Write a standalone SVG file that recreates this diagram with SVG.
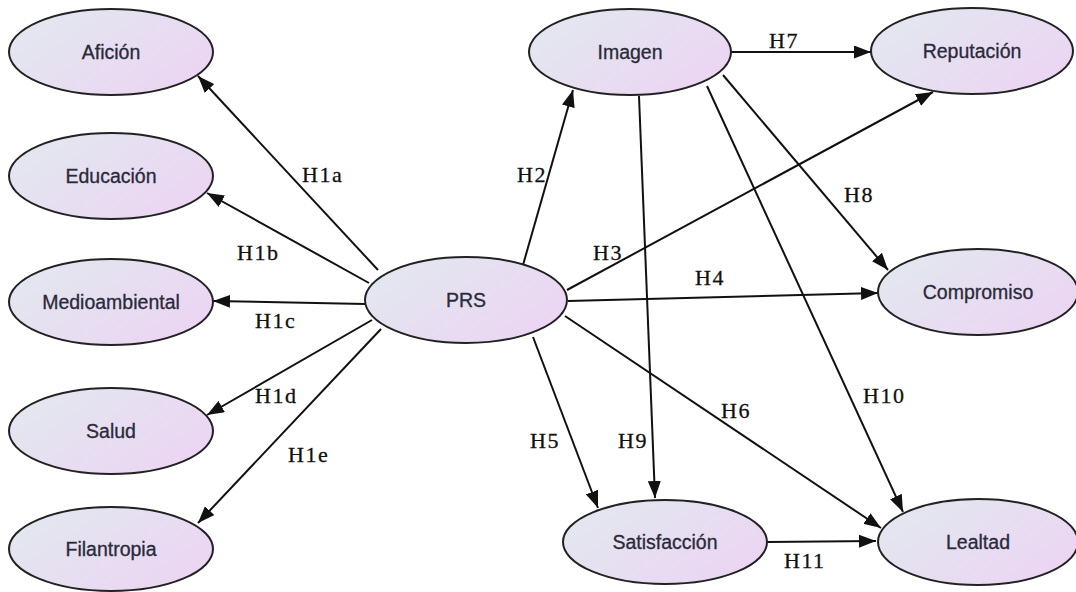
<svg xmlns="http://www.w3.org/2000/svg" width="1076" height="592" viewBox="0 0 1076 592">
<defs>
<linearGradient id="g" x1="0" y1="0.2" x2="1" y2="0.8">
<stop offset="0" stop-color="#e2e8ef"/>
<stop offset="1" stop-color="#ecd4f3"/>
</linearGradient>
<marker id="a" markerUnits="userSpaceOnUse" markerWidth="18" markerHeight="13" refX="17" refY="6.5" orient="auto">
<path d="M0,0 L17,6.5 L0,13 z" fill="#111"/>
</marker>
</defs>
<style>
.n{fill:url(#g);stroke:#222;stroke-width:2}
.t{font-family:"Liberation Sans",Arial,sans-serif;font-size:19.5px;fill:#2a2a3a;stroke:#2a2a3a;stroke-width:0.3;text-anchor:middle}
.e{fill:none;stroke:#111;stroke-width:2;marker-end:url(#a)}
.l{font-family:"Liberation Serif","Times New Roman",serif;font-size:22px;letter-spacing:1.5px;fill:#111;stroke:#111;stroke-width:0.3}
</style>
<rect width="1076" height="592" fill="#fff"/>
<g id="connectors">
<line class="e" x1="378" y1="270" x2="198" y2="76"/>
<line class="e" x1="369" y1="283" x2="207" y2="193"/>
<line class="e" x1="365" y1="304" x2="213" y2="301"/>
<line class="e" x1="372" y1="320" x2="207" y2="415"/>
<line class="e" x1="381" y1="329" x2="198" y2="523"/>
<line class="e" x1="523" y1="265" x2="573" y2="90"/>
<line class="e" x1="567" y1="290" x2="933" y2="92"/>
<line class="e" x1="568" y1="301" x2="878" y2="293"/>
<line class="e" x1="533" y1="337" x2="598" y2="508"/>
<line class="e" x1="565" y1="316" x2="881" y2="528"/>
<line class="e" x1="731" y1="52" x2="871" y2="52"/>
<line class="e" x1="723" y1="75" x2="888" y2="270"/>
<line class="e" x1="639" y1="96" x2="655" y2="498"/>
<line class="e" x1="707" y1="86" x2="903" y2="512"/>
<line class="e" x1="767" y1="542" x2="876" y2="541"/>
<text class="l" x="302" y="182">H1a</text>
<text class="l" x="237" y="260">H1b</text>
<text class="l" x="255" y="328">H1c</text>
<text class="l" x="255" y="403">H1d</text>
<text class="l" x="288" y="462">H1e</text>
<text class="l" x="517" y="182">H2</text>
<text class="l" x="593" y="260">H3</text>
<text class="l" x="695" y="285">H4</text>
<text class="l" x="530" y="448">H5</text>
<text class="l" x="721" y="418">H6</text>
<text class="l" x="769" y="48">H7</text>
<text class="l" x="844" y="202">H8</text>
<text class="l" x="618" y="448">H9</text>
<text class="l" x="863" y="403">H10</text>
<text class="l" x="784" y="568">H11</text>
</g>
<g id="aficion"><ellipse class="n" cx="111" cy="52" rx="102" ry="43"/><text class="t" x="111" y="59">Afición</text></g>
<g id="educacion"><ellipse class="n" cx="111" cy="176" rx="102" ry="43"/><text class="t" x="111" y="183">Educación</text></g>
<g id="medioambiental"><ellipse class="n" cx="111" cy="302" rx="102" ry="43"/><text class="t" x="111" y="309">Medioambiental</text></g>
<g id="salud"><ellipse class="n" cx="111" cy="431" rx="102" ry="43"/><text class="t" x="111" y="438">Salud</text></g>
<g id="filantropia"><ellipse class="n" cx="111" cy="549" rx="102" ry="42"/><text class="t" x="111" y="556">Filantropia</text></g>
<g id="prs"><ellipse class="n" cx="466" cy="300" rx="101" ry="43"/><text class="t" x="466" y="307">PRS</text></g>
<g id="imagen"><ellipse class="n" cx="630" cy="52" rx="101" ry="43"/><text class="t" x="630" y="59">Imagen</text></g>
<g id="reputacion"><ellipse class="n" cx="972" cy="51" rx="101" ry="43"/><text class="t" x="972" y="58">Reputación</text></g>
<g id="compromiso"><ellipse class="n" cx="978" cy="292" rx="100" ry="43"/><text class="t" x="978" y="299">Compromiso</text></g>
<g id="satisfaccion"><ellipse class="n" cx="665" cy="542" rx="102" ry="42"/><text class="t" x="665" y="549">Satisfacción</text></g>
<g id="lealtad"><ellipse class="n" cx="978" cy="542" rx="100" ry="43"/><text class="t" x="978" y="549">Lealtad</text></g>
</svg>
